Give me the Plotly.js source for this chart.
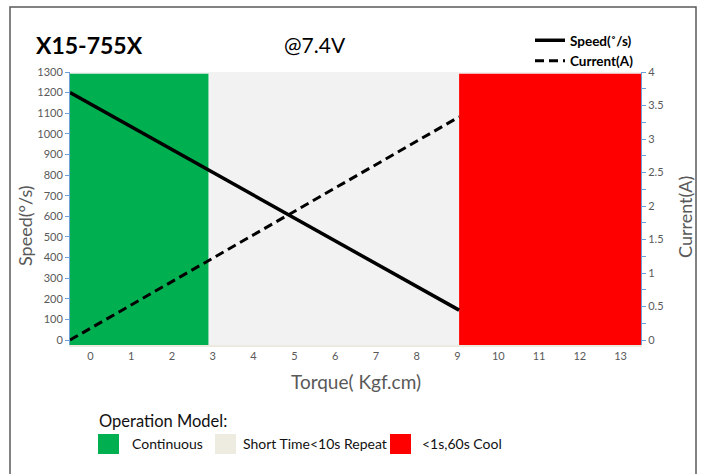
<!DOCTYPE html>
<html>
<head>
<meta charset="utf-8">
<script src="https://cdn.plot.ly/plotly-3.0.1.min.js"></script>
<style>
html,body{margin:0;padding:0;background:#fff;}
#chart{width:701px;height:474px;}
</style>
</head>
<body>
<div id="chart"></div>
<script>
// ---- data ----
const chartTitle = "X15-755X";
const voltageLabel = "@7.4V";
const torque = [-0.5, 9.04];
const speed = [1200, 145];
const current = [0, 3.33];
const zoneNames = ["Continuous", "Short Time<10s Repeat", "<1s,60s Cool"];
const zoneStart = [-0.5, 2.9, 9.04];
const zoneEnd = [2.9, 9.04, 13.5];
const zoneBottom = -24;
const zoneTop = 1291;
const xTicks = [0,1,2,3,4,5,6,7,8,9,10,11,12,13];
const speedTicks = [0,100,200,300,400,500,600,700,800,900,1000,1100,1200,1300];
const currentTicks = [0,0.5,1,1.5,2,2.5,3,3.5,4];
const xTitle = "Torque( Kgf.cm)";
const yTitle = "Speed(°/s)";
const y2Title = "Current(A)";
const legendTitle = "Operation Model:";

// ---- layout helpers (pixel -> paper) ----
const L = 70, R = 60, T = 72, B = 129, W = 701, H = 474;
const PW = W - L - R, PH = H - T - B;
const px = x => (x - L) / PW;
const py = y => (H - B - y) / PH;

const zoneColors = ["#00B050", "#F2F2F2", "#FF0000"];
const swatchColors = ["#00B050", "#EEECE1", "#FF0000"];
const FONT = "Lato, 'Open Sans', sans-serif";
const GREY = "#595959";
const AXBLUE = "#6E9FD6";

const traces = [];
zoneNames.forEach((n, i) => {
  traces.push({
    type: "bar",
    x: [(zoneStart[i] + zoneEnd[i]) / 2],
    y: [zoneTop - zoneBottom],
    base: [zoneBottom],
    width: [zoneEnd[i] - zoneStart[i]],
    marker: {color: zoneColors[i], line: {width: 0}},
    name: n,
    showlegend: false,
    hoverinfo: "skip"
  });
});
traces.push({
  type: "scatter", mode: "lines", x: torque, y: speed,
  name: "Speed(˚/s)", line: {color: "#000", width: 3.5}, legend: "legend"
});
traces.push({
  type: "scatter", mode: "lines", x: torque, y: current, yaxis: "y2",
  name: "Current(A)", line: {color: "#000", width: 3, dash: "9px,5px"}, legend: "legend"
});

const shapes = [
  {type: "rect", xref: "paper", yref: "paper", x0: px(10), x1: px(696), y0: py(500), y1: py(7),
   line: {color: "#5a5a5a", width: 1.5}, fillcolor: "rgba(0,0,0,0)", layer: "above"}
];
const swX = [98, 215, 390];
const txtX = [130, 241, 420];
const annotations = [
  {text: "<b>" + chartTitle + "</b>", xref: "paper", yref: "paper", x: px(34), y: py(45),
   xanchor: "left", yanchor: "middle", showarrow: false, font: {family: FONT, size: 23, color: "#000"}},
  {text: voltageLabel, xref: "paper", yref: "paper", x: px(315), y: py(45),
   xanchor: "center", yanchor: "middle", showarrow: false, font: {family: FONT, size: 21, color: "#000"}},
  {text: legendTitle, xref: "paper", yref: "paper", x: px(97), y: py(421),
   xanchor: "left", yanchor: "middle", showarrow: false, font: {family: FONT, size: 16.5, color: "#111"}},
  {text: yTitle, xref: "paper", yref: "paper", x: px(25), y: py(226), textangle: -90,
   xanchor: "center", yanchor: "middle", showarrow: false, font: {family: FONT, size: 18, color: GREY}},
  {text: y2Title, xref: "paper", yref: "paper", x: px(685), y: py(217), textangle: -90,
   xanchor: "center", yanchor: "middle", showarrow: false, font: {family: FONT, size: 18, color: GREY}},
  {text: xTitle, xref: "paper", yref: "paper", x: px(356), y: py(381),
   xanchor: "center", yanchor: "middle", showarrow: false, font: {family: FONT, size: 19, color: GREY}}
];
zoneNames.forEach((n, i) => {
  shapes.push({type: "rect", xref: "paper", yref: "paper", x0: px(swX[i]), x1: px(swX[i] + 21),
    y0: py(454), y1: py(434), fillcolor: swatchColors[i], line: {width: 0}});
  annotations.push({text: n, xref: "paper", yref: "paper", x: px(txtX[i]), y: py(443),
    xanchor: "left", yanchor: "middle", showarrow: false, font: {family: FONT, size: 14, color: "#111"}});
});

const layout = {
  width: W, height: H,
  margin: {l: L, r: R, t: T, b: B},
  paper_bgcolor: "#fff",
  plot_bgcolor: "#F2F2F2",
  font: {family: FONT, color: GREY},
  showlegend: true,
  barmode: "overlay",
  xaxis: {
    range: [-0.5, 13.5], tickvals: xTicks, ticks: "", showgrid: false, zeroline: false,
    showline: true, linecolor: "#ECE9DF", linewidth: 2,
    tickfont: {size: 11, color: GREY}
  },
  yaxis: {
    range: [zoneBottom, 1300], tickvals: speedTicks, ticks: "outside", ticklen: 4, tickcolor: AXBLUE,
    showline: true, linecolor: AXBLUE, linewidth: 1, showgrid: false, zeroline: false,
    tickfont: {size: 11, color: GREY}
  },
  yaxis2: {
    overlaying: "y", side: "right", range: [zoneBottom * 4 / 1300, 4], tickvals: currentTicks,
    ticks: "outside", ticklen: 4, tickcolor: AXBLUE, showline: true, linecolor: AXBLUE, linewidth: 1,
    minor: {dtick: 0.25, ticks: "outside", ticklen: 4, tickcolor: AXBLUE},
    showgrid: false, zeroline: false,
    tickfont: {size: 11, color: GREY}
  },
  legend: {
    x: px(530), y: py(25), xanchor: "left", yanchor: "top",
    bgcolor: "rgba(0,0,0,0)", font: {size: 13.5, color: "#000", family: FONT, weight: "bold"},
    tracegroupgap: 0, itemwidth: 30
  },
  shapes: shapes,
  annotations: annotations
};

Plotly.newPlot("chart", traces, layout, {displayModeBar: false, staticPlot: true});
</script>
</body>
</html>
